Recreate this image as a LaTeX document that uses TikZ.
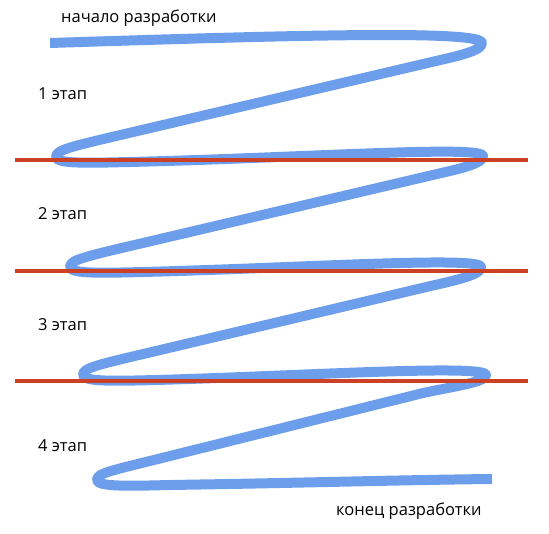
\documentclass[tikz,border=0pt]{standalone}
\usepackage{fontspec}
\setmainfont{Open Sans}
\usepackage{tikz}
\usetikzlibrary{positioning}
\definecolor{spiralblue}{RGB}{109,158,235}
\definecolor{bordered}{RGB}{204,65,37}

\begin{document}
\begin{tikzpicture}[
    x=1pt, y=-1pt,
    spiral/.style={draw=spiralblue, line width=10pt, line join=round},
    border/.style={draw=bordered, line width=4.5pt},
    lbl/.style={anchor=base west, inner sep=0pt, font=\fontsize{16.5}{20}\selectfont}
  ]
    \useasboundingbox (0,0) rectangle (549,534);
    % development path
    \draw[spiral]
      (50,43) .. controls (300,35) and (482,30) .. (482,43)
      .. controls (482,52) and (452,57) .. (419,65)
      -- (129,133)
      .. controls (69,147) and (56,150) .. (56,157)
      .. controls (56,164) and (89,163) .. (129,162)
      .. controls (300,158) and (483,145) .. (483,156)
      .. controls (483,165) and (453,170) .. (420,178)
      -- (143,243)
      .. controls (83,257) and (70,260) .. (70,267)
      .. controls (70,274) and (103,273) .. (143,272)
      .. controls (300,268) and (481,256) .. (481,267)
      .. controls (481,276) and (451,281) .. (418,289)
      -- (156,351)
      .. controls (96,365) and (83,368) .. (83,375)
      .. controls (83,382) and (116,381) .. (156,380)
      .. controls (300,376) and (486,364) .. (486,375)
      .. controls (486,382) and (456,386) .. (423,393)
      -- (170,456)
      .. controls (110,471) and (97,473) .. (97,480)
      .. controls (97,487) and (130,486) .. (170,485)
      .. controls (300,483) and (400,480) .. (492,479);
    % stage borders
    \foreach \y in {160,271,381}
      \draw[border] (15,\y) -- (528,\y);
    \node[lbl] (begin) at (61,23) {начало разработки};
    \foreach \n/\y in {1/100,2/220,3/331,4/452}
      \node[lbl] (stage\n) at (38,\y) {\n{} этап};
    \node[lbl] (finish) at (336,515) {конец разработки};
  \end{tikzpicture}
\end{document}
